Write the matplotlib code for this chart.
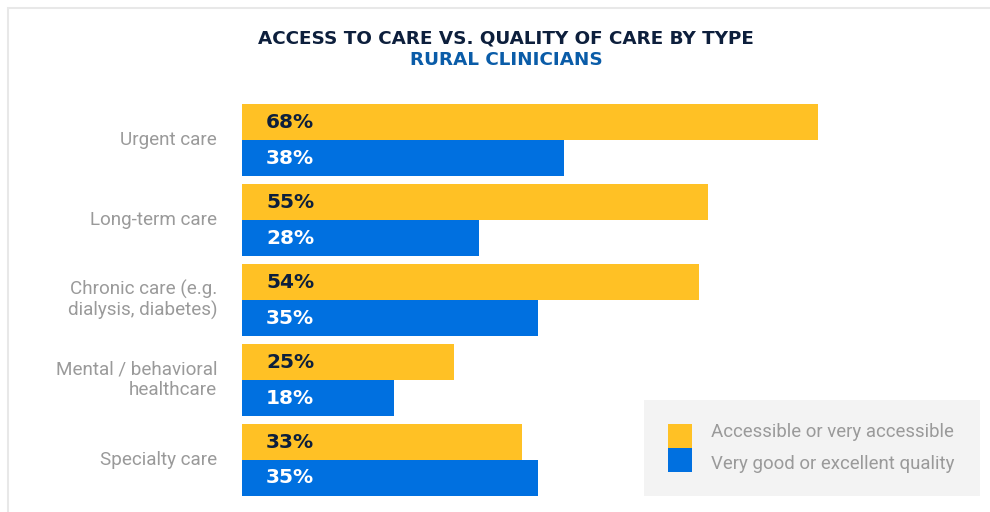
import numpy as np
import matplotlib.pyplot as plt
from matplotlib.patches import Rectangle

categories = ['Urgent care', 'Long-term care', 'Chronic care (e.g.\ndialysis, diabetes)',
              'Mental / behavioral\nhealthcare', 'Specialty care']
accessible = [68, 55, 54, 25, 33]
quality = [38, 28, 35, 18, 35]
series_names = ['Accessible or very accessible', 'Very good or excellent quality']

orange = '#FFC125'
blue = '#0070E0'
gray = '#9A9A9A'

W, H = 990, 512
fig = plt.figure(figsize=(W / 100, H / 100), dpi=100)
fig.patch.set_facecolor('white')

# light frame around the card
fig.add_artist(Rectangle((8 / W, -0.1), 1.1, (H - 8) / H + 0.1, transform=fig.transFigure,
                         fill=False, edgecolor='#E8E8E8', linewidth=1.5))

fig.text(506 / W, 1 - 38 / H, 'ACCESS TO CARE VS. QUALITY OF CARE BY TYPE', ha='center', va='center',
         fontsize=13.2, fontweight='bold', color='#0D1F3C', family='DejaVu Sans')
fig.text(506 / W, 1 - 60 / H, 'RURAL CLINICIANS', ha='center', va='center',
         fontsize=13.2, fontweight='bold', color='#0A5CA8', family='DejaVu Sans')

px = 576 / 68  # pixels per percent
ax = fig.add_axes([242 / W, 1 - 496 / H, (W - 242) / W, 392 / H])
ax.set_xlim(0, (W - 242) / px)
ax.set_ylim(4.45, -0.45)
ax.axis('off')

y = np.arange(len(categories))
ax.barh(y - 0.225, accessible, height=0.45, color=orange)
ax.barh(y + 0.225, quality, height=0.45, color=blue)

for i in range(len(categories)):
    ax.text(24 / px, y[i] - 0.225, f'{accessible[i]}%', ha='left', va='center',
            fontsize=14.5, fontweight='bold', color='#0D1F3C', family='DejaVu Sans')
    ax.text(24 / px, y[i] + 0.225, f'{quality[i]}%', ha='left', va='center',
            fontsize=14.5, fontweight='bold', color='white', family='DejaVu Sans')
    ax.text(-25 / px, y[i], categories[i], ha='right', va='center', fontsize=13.6,
            color=gray, family='Roboto', linespacing=1.15, clip_on=False)

# legend box
fig.add_artist(Rectangle((644 / W, 1 - 496 / H), 336 / W, 96 / H, transform=fig.transFigure,
                         facecolor='#F3F3F3', edgecolor='none'))
for k, (c, name) in enumerate(zip([orange, blue], series_names)):
    top = 424 + 24 * k
    fig.add_artist(Rectangle((668 / W, 1 - (top + 24) / H), 24 / W, 24 / H,
                             transform=fig.transFigure, facecolor=c, edgecolor='none'))
    fig.text(711 / W, 1 - (432 + 32 * k) / H, name, ha='left', va='center', fontsize=13.4,
             color=gray, family='Roboto')

fig.savefig('out.png', dpi=100)
